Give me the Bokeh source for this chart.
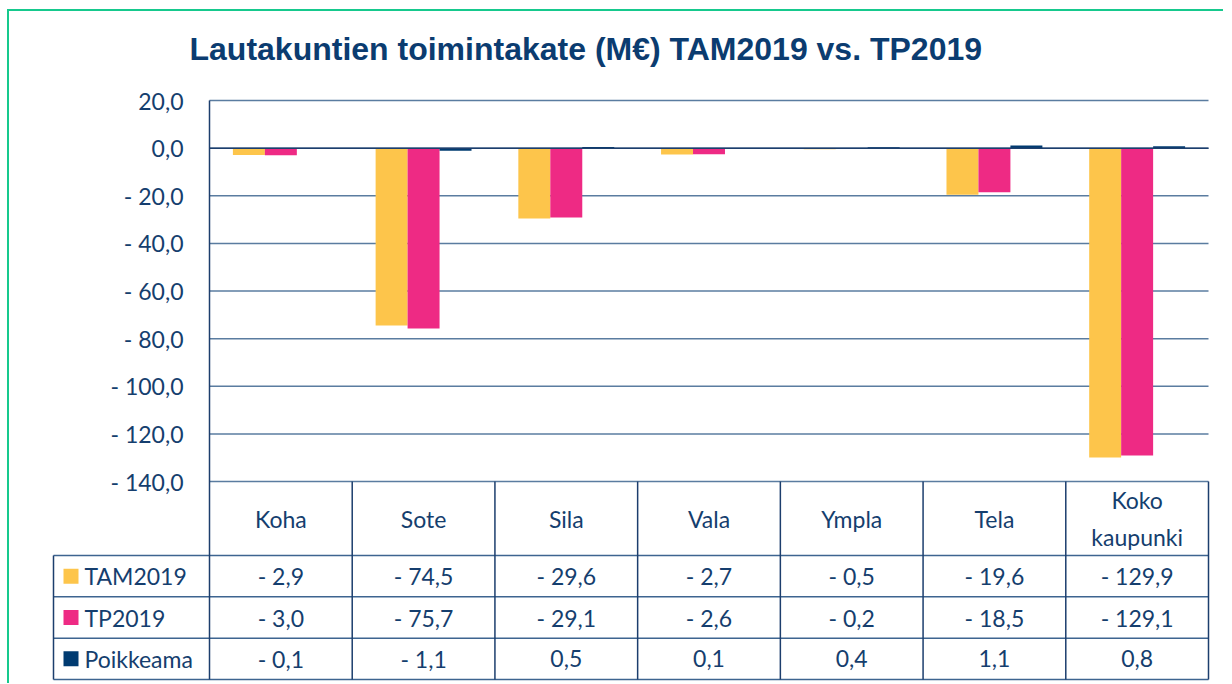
import numpy as np
from bokeh.plotting import figure
from bokeh.models import Range1d, FixedTicker
from bokeh.layouts import column
from bokeh.embed import file_html
from bokeh.resources import INLINE
from bokeh.core.properties import value

# ---------------- data ----------------
title_text = "Lautakuntien toimintakate (M€) TAM2019 vs. TP2019"
categories = ["Koha", "Sote", "Sila", "Vala", "Ympla", "Tela", "Koko kaupunki"]
series_names = ["TAM2019", "TP2019", "Poikkeama"]
tam2019 = [-2.9, -74.5, -29.6, -2.7, -0.5, -19.6, -129.9]
tp2019 = [-3.0, -75.7, -29.1, -2.6, -0.2, -18.5, -129.1]
poikkeama = [-0.1, -1.1, 0.5, 0.1, 0.4, 1.1, 0.8]
y_ticks = [20, 0, -20, -40, -60, -80, -100, -120, -140]
colors = ["#FDC54B", "#EE2A84", "#003B71"]

# ---------------- style ----------------
FONT = "Lato"
TXT = "#153E6E"
GRID = "#5A7CA0"
DARK = "#1C3E6D"
FS = "23px"


def fmt(v):
    s = f"{abs(v):.1f}".replace(".", ",")
    return ("- " + s) if v < 0 else s


series = [tam2019, tp2019, poikkeama]
n = len(categories)
idx = np.arange(n)
ymax, ymin = max(y_ticks), min(y_ticks)

# page geometry (figure origin on page at OX, OY)
OX, OY = 9, 11
W, H = 1214, 672
PL, PR = 209.0, 1208.0          # plot area left/right (page px)
PT, PB = 100.0, 481.0           # plot area top/bottom (page px)
FL, FR, FT, FB = 51, 1210, 20, 681  # frame (page px)
cw = (PR - PL) / n
ppu = (PB - PT) / (ymax - ymin)


def px2x(px):
    return (px - PL) / cw


def pg2y(py):
    return ymax - (py - PT) / ppu


p = figure(width=W, height=H, output_backend="svg", toolbar_location=None,
           x_range=Range1d(px2x(FL), px2x(FR)), y_range=Range1d(pg2y(FB), pg2y(FT)),
           x_axis_location=None,
           min_border_left=FL - OX, min_border_right=OX + W - FR,
           min_border_top=FT - OY, min_border_bottom=OY + H - FB)
p.outline_line_color = None
p.background_fill_color = "white"
p.border_fill_color = "white"
p.xgrid.visible = False
p.ygrid.visible = False

# y axis: only its tick labels are shown, placed left of the plot area
yax = p.yaxis[0]
yax.ticker = FixedTicker(ticks=y_ticks)
yax.major_label_overrides = {t: fmt(t) for t in y_ticks}
yax.major_tick_out = 0
yax.major_tick_in = 0
yax.minor_tick_out = 0
yax.minor_tick_in = 0
yax.axis_line_color = None
yax.major_label_standoff = int(FL - 183)
yax.major_label_text_font = FONT
yax.major_label_text_font_size = FS
yax.major_label_text_color = TXT

# title
p.text(x=[px2x(189)], y=[pg2y(48)], text=[title_text],
       text_font=value("Liberation Sans"), text_font_size="32px", text_font_style="bold",
       text_color="#0B3C70", text_align="left", text_baseline="middle")

# gridlines across the plot area
p.segment(x0=[0] * len(y_ticks), x1=[n] * len(y_ticks), y0=y_ticks, y1=y_ticks,
          line_color=GRID, line_width=1.5)

bw = 0.224
for k, (vals, c) in enumerate(zip(series, colors)):
    p.vbar(x=idx + 0.5 + (k - 1) * bw, top=vals, bottom=0, width=bw,
           fill_color=c, line_color=None)

# zero line
p.segment(x0=[0], x1=[n], y0=[0], y1=[0], line_color=DARK, line_width=1.5)

# ---------------- data table ----------------
xl = px2x(53)
row_pg = [555.0, 596.3, 637.7, 679.0]
row_y = [pg2y(v) for v in row_pg]
tbl_bottom = row_y[-1]
p.segment(x0=[xl] * 4, x1=[n] * 4, y0=row_y, y1=row_y,
          line_color="#3D6490", line_width=1.5)
# vertical lines: axis line + column separators
vx = list(idx) + [n]
p.segment(x0=vx, x1=vx, y0=[ymax] + [ymin] * n, y1=[tbl_bottom] * (n + 1),
          line_color=DARK, line_width=1.5)
p.segment(x0=[xl], x1=[xl], y0=[row_y[0]], y1=[tbl_bottom], line_color=DARK, line_width=1.5)

cat_y = pg2y((PB + row_pg[0]) / 2)
p.text(x=idx + 0.5, y=[cat_y] * n, text=[c.replace(" ", "\n") for c in categories],
       text_font=value(FONT), text_font_size=FS, text_color=TXT,
       text_align="center", text_baseline="middle", text_line_height=1.3)

row_centers = [(row_y[j] + row_y[j + 1]) / 2 for j in range(3)]
p.scatter(x=[px2x(70.5)] * 3, y=row_centers, marker="square", size=15,
          fill_color=colors, line_color=None)
p.text(x=[px2x(84)] * 3, y=row_centers, text=series_names,
       text_font=value(FONT), text_font_size=FS, text_color=TXT,
       text_align="left", text_baseline="middle")
for j, vals in enumerate(series):
    p.text(x=idx + 0.5, y=[row_centers[j]] * n, text=[fmt(v) for v in vals],
           text_font=value(FONT), text_font_size=FS, text_color=TXT,
           text_align="center", text_baseline="middle")

layout = column(p, styles={"border-left": "2px solid #16C98D",
                           "border-top": "2px solid #16C98D",
                           "margin-left": "7px", "margin-top": "9px"})

open("out.html", "w").write(file_html(layout, INLINE))
